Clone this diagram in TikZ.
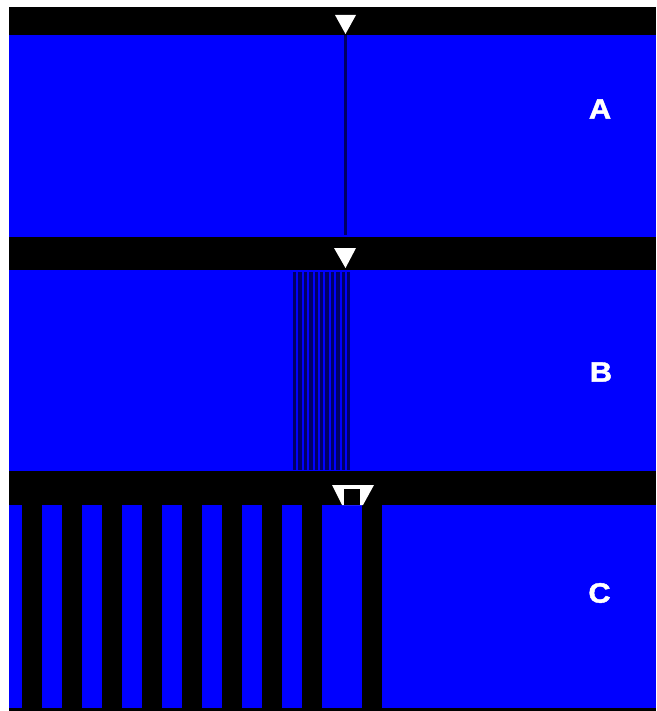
\documentclass[tikz,border=0pt]{standalone}
\usepackage{fontspec}
\setmainfont{Liberation Sans}
\newfontfamily\heavyfont{Liberation Sans Bold}[FakeBold=1.5]
\definecolor{pureblue}{RGB}{0,0,255}
\definecolor{navy}{RGB}{0,0,100}
\tikzset{
  bar/.style={fill=black},
  panel/.style={fill=pureblue},
  marker/.style={fill=white},
  lbl/.style={text=white, font=\heavyfont\fontsize{28}{28}\selectfont, xscale=1.1, inner sep=0pt},
  thinline/.style={fill=navy}
}
\begin{document}
\begin{tikzpicture}[x=1pt,y=-1pt]
\useasboundingbox (0,0) rectangle (656,711);
\fill[white] (0,0) rectangle (656,711);
% panel A
\fill[bar] (9,7) rectangle (656,35);
\fill[panel] (9,35) rectangle (656,237);
\fill[thinline] (344,35) rectangle (346.5,235);
\fill[marker] (335,15) -- (356,15) -- (345.5,34) -- cycle;
\node[lbl] (A) at (600,109) {A};
% panel B
\fill[bar] (9,237) rectangle (656,270);
\fill[panel] (9,270) rectangle (656,471);
\foreach \i in {0,...,10} {
  \fill[thinline] ({293+5.4*\i},272) rectangle ({296.4+5.4*\i},470);
}
\fill[marker] (334,248) -- (356,248) -- (345.5,268) -- cycle;
\node[lbl] (B) at (601,372) {B};
% panel C
\fill[bar] (9,471) rectangle (656,711);
\foreach \x in {42,82,...,282} {
  \fill[panel] (\x,505) rectangle (\x+20,708);
}
\fill[panel] (9,505) rectangle (22,708);
\fill[panel] (322,505) rectangle (362,708);
\fill[panel] (382,505) rectangle (656,708);
\fill[marker] (332,485) -- (374,485) -- (363,505) -- (342,505) -- cycle;
\fill[bar] (344,488.5) rectangle (360,505);
\node[lbl] (C) at (599.5,593) {C};
\end{tikzpicture}
\end{document}
